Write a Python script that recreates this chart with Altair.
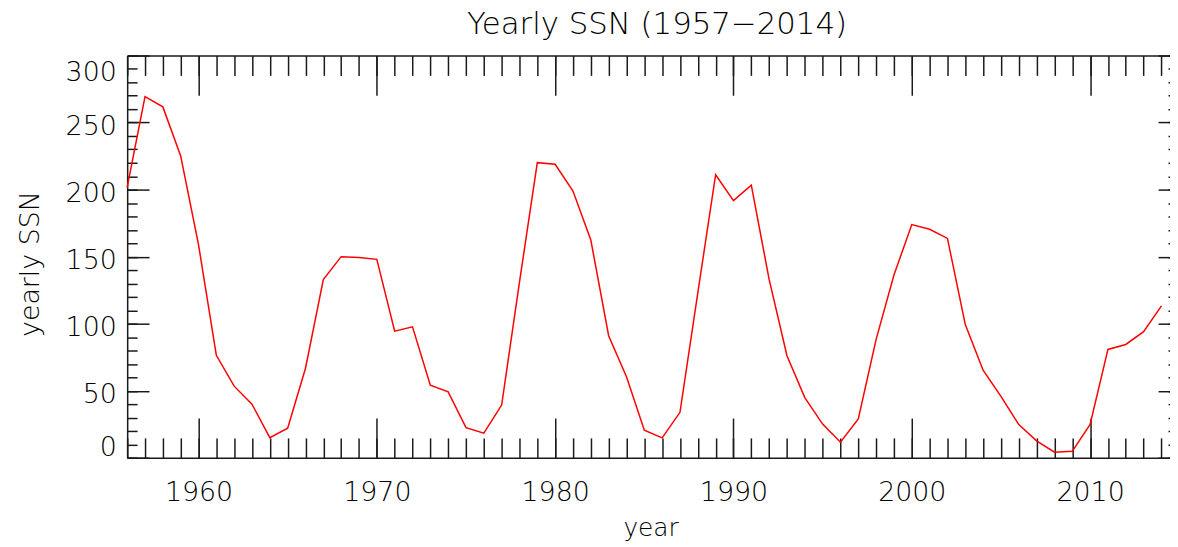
import altair as alt
import pandas as pd

# ---- data ----
years = list(range(1956, 2015))
ssn = [201.6, 269.3, 261.7, 225.1, 159.0, 76.4, 53.4, 39.9, 15.0, 22.0,
       66.8, 132.9, 150.0, 149.4, 148.0, 94.4, 97.6, 54.1, 49.2, 22.5,
       18.4, 39.3, 131.0, 220.1, 218.9, 198.9, 162.4, 91.0, 60.5, 20.6,
       14.8, 33.9, 123.0, 211.1, 191.8, 203.3, 133.0, 76.1, 44.9, 25.1,
       11.6, 28.9, 88.3, 136.3, 173.9, 170.4, 163.6, 99.3, 65.3, 45.8,
       24.7, 12.6, 4.2, 4.8, 24.9, 80.8, 84.5, 94.0, 113.3]

x_domain = [1956, 2014.48]
y_domain = [0, 300]
x_major = list(range(1960, 2011, 10))
x_minor = list(range(1956, 2015))
y_major = list(range(0, 301, 50))
y_minor = list(range(0, 301, 10))

title_text = "Yearly SSN (1957\u22122014)"
x_title = "year"
y_title = "yearly SSN"

df = pd.DataFrame({"year": years, "ssn": ssn})

W, H = 1050, 405
FONT = "DejaVu Sans"
WEIGHT = 200
INK = "#1a1a1a"
TEXT = "#000000"


def xenc(axis):
    return alt.X("year:Q", scale=alt.Scale(domain=x_domain, nice=False, zero=False), axis=axis)


def yenc(axis):
    return alt.Y("ssn:Q", scale=alt.Scale(domain=y_domain, nice=False, zero=False), axis=axis)


def tick_axis(orient, values, size, offset, domain=False):
    kw = dict(orient=orient, values=values, tickSize=size, offset=offset,
              labels=False, grid=False, ticks=True, title=None,
              tickColor=INK, tickWidth=1.5, domain=domain)
    if domain:
        kw.update(domainColor=INK, domainWidth=1.5)
    return alt.Axis(**kw)


line = alt.Chart(df).mark_line(color="#ff0000", strokeWidth=1.5).encode(
    x=xenc(alt.Axis(orient="bottom", values=x_major, format="d", ticks=False, grid=False,
                    domain=True, domainColor=INK, domainWidth=1.5,
                    labelFont=FONT, labelFontSize=27, labelFontWeight=WEIGHT, labelColor=TEXT,
                    labelPadding=43, labelBaseline="alphabetic", labelFlush=False,
                    labelOverlap=False,
                    title=x_title, titleFont=FONT, titleFontSize=25, titleFontWeight=WEIGHT,
                    titleColor=TEXT, titleX=527, titleY=78, titleBaseline="alphabetic",
                    titleAlign="center")),
    y=yenc(alt.Axis(orient="left", values=y_major, format="d", ticks=False, grid=False,
                    domain=True, domainColor=INK, domainWidth=1.5,
                    labelFont=FONT, labelFontSize=27, labelFontWeight=WEIGHT, labelColor=TEXT,
                    labelPadding=11, labelFlush=True, labelOffset=4, labelOverlap=False,
                    title=y_title, titleFont=FONT, titleFontSize=27, titleFontWeight=WEIGHT,
                    titleColor=TEXT, titleAngle=270, titleX=-89.5, titleY=209.5,
                    titleBaseline="alphabetic", titleAlign="center")),
)


def ghost(xaxis, yaxis):
    return alt.Chart(df).mark_line(strokeOpacity=0).encode(x=xenc(xaxis), y=yenc(yaxis))


g2 = ghost(tick_axis("top", x_major, 40, -H), tick_axis("right", y_major, 22, -W))
g3 = ghost(tick_axis("top", x_minor, 20, -H), tick_axis("right", y_minor, 10, -W))
g4 = ghost(tick_axis("bottom", x_major, 40, -H, domain=True), tick_axis("left", y_major, 12, -W))
g5 = ghost(tick_axis("bottom", x_minor, 20, -H), tick_axis("left", y_minor, 2, -W))

chart = alt.layer(g2, g3, g4, g5, line).resolve_axis(
    x="independent", y="independent"
).properties(
    width=W, height=H,
    title=alt.TitleParams(title_text, font=FONT, fontSize=31, fontWeight=WEIGHT, color=TEXT,
                          anchor="middle", dx=8.5, dy=32, offset=22, baseline="alphabetic",
                          frame="group"),
    padding={"left": 120, "top": 46, "right": 0, "bottom": 88},
    autosize=alt.AutoSizeParams(type="none"),
).configure_view(stroke=None)

chart.save("out.html", embed_options={"renderer": "svg", "actions": False})
